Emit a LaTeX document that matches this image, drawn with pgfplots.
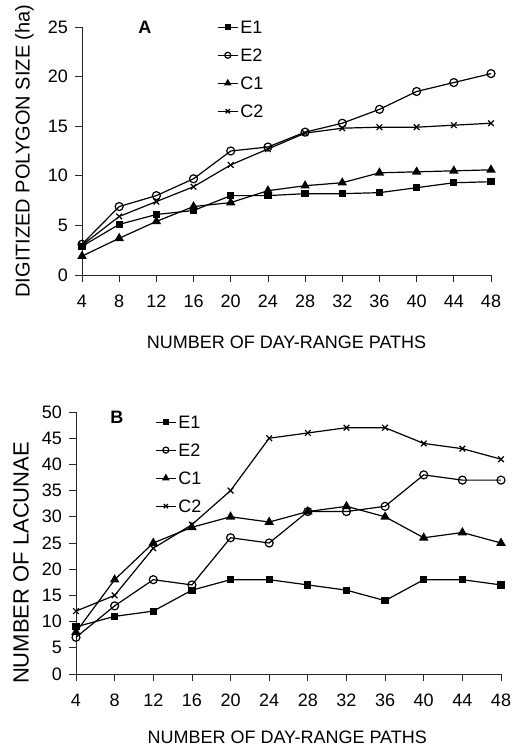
\documentclass[border=0pt]{standalone}
\usepackage{fontspec}
\setmainfont{Liberation Sans}
\usepackage{pgfplots}
\pgfplotsset{compat=1.18}

\newcommand\lab{\fontsize{18bp}{20bp}\selectfont}

\pgfplotsset{
  panel/.style={
    scale only axis, anchor=south west, clip=false,
    axis x line=bottom, axis y line=left,
    axis line style={black!85, line width=0.8bp, -},
    xmin=4, xmax=48, xtick={4,8,...,48},
    tick align=outside, major tick length=7bp,
    tick style={black!85, line width=0.8bp},
    ticklabel style={font=\lab},
    /pgf/number format/assume math mode=true,
    yticklabel style={anchor=east, inner sep=0pt, xshift=-7bp},
    xticklabel style={anchor=north, inner sep=0pt, yshift=-13bp},
    xlabel style={font=\lab, anchor=center},
    ylabel style={anchor=center},
    legend cell align=left,
    legend style={draw=none, fill=white, inner sep=0pt, row sep=15bp,
      column sep=2bp,
      nodes={font=\lab, inner sep=0pt, text height=13bp, text depth=0bp}},
    legend image code/.code={
      \draw[mark repeat=2, mark phase=2] plot coordinates {(0bp,0bp) (10bp,0bp) (20bp,0bp)};},
    legend image post style={every mark/.append style={scale=0.75}},
    every axis plot/.append style={black, line width=1.2bp},
  },
  sE1/.style={mark=square*, mark size=3bp},
  sE2/.style={mark=o, mark size=4bp, mark options={fill=white}},
  sC1/.style={mark=triangle*, mark size=4.3bp},
  sC2/.style={mark=x, mark size=4bp},
}

\begin{document}
\begin{tikzpicture}
\path (0,0) rectangle (519bp,751bp);

% panel A
\begin{axis}[panel,
  at={(82bp,476bp)}, width=409bp, height=248bp,
  ymin=0, ymax=25, ytick={0,5,...,25},
  xlabel={NUMBER OF DAY-RANGE PATHS},
  xlabel style={at={(axis description cs:0.5,-0.270)}},
  ylabel={DIGITIZED POLYGON SIZE (ha)},
  ylabel style={at={(axis description cs:-0.1406,0.5)}, font=\fontsize{20bp}{22bp}\selectfont},
  legend style={at={(axis description cs:0.330,1.026)}, anchor=north west},
]
\addplot[sE1] coordinates {(4,2.9)(8,5.1)(12,6.1)(16,6.5)(20,8.0)(24,8.0)(28,8.2)(32,8.2)(36,8.3)(40,8.8)(44,9.3)(48,9.4)};
\addlegendentry{E1}
\addplot[sE2] coordinates {(4,3.1)(8,6.9)(12,8.0)(16,9.7)(20,12.5)(24,12.9)(28,14.4)(32,15.3)(36,16.7)(40,18.5)(44,19.4)(48,20.3)};
\addlegendentry{E2}
\addplot[sC1] coordinates {(4,1.9)(8,3.7)(12,5.4)(16,6.9)(20,7.3)(24,8.5)(28,9.0)(32,9.3)(36,10.3)(40,10.4)(44,10.5)(48,10.6)};
\addlegendentry{C1}
\addplot[sC2] coordinates {(4,3.0)(8,5.9)(12,7.4)(16,8.9)(20,11.1)(24,12.7)(28,14.3)(32,14.8)(36,14.9)(40,14.9)(44,15.1)(48,15.3)};
\addlegendentry{C2}
\node[font=\lab\bfseries] at (axis description cs:0.154,1.0) {A};
\end{axis}

% panel B
\begin{axis}[panel,
  at={(76bp,77bp)}, width=425bp, height=262bp,
  ymin=0, ymax=50, ytick={0,5,...,50},
  xlabel={NUMBER OF DAY-RANGE PATHS},
  xlabel style={at={(axis description cs:0.497,-0.240)}},
  ylabel={NUMBER OF LACUNAE},
  ylabel style={at={(axis description cs:-0.129,0.424)}, font=\fontsize{22bp}{24bp}\selectfont},
  legend style={at={(axis description cs:0.186,0.987)}, anchor=north west},
]
\addplot[sE1] coordinates {(4,9)(8,11)(12,12)(16,16)(20,18)(24,18)(28,17)(32,16)(36,14)(40,18)(44,18)(48,17)};
\addlegendentry{E1}
\addplot[sE2] coordinates {(4,7)(8,13)(12,18)(16,17)(20,26)(24,25)(28,31)(32,31)(36,32)(40,38)(44,37)(48,37)};
\addlegendentry{E2}
\addplot[sC1] coordinates {(4,8)(8,18)(12,25)(16,28)(20,30)(24,29)(28,31)(32,32)(36,30)(40,26)(44,27)(48,25)};
\addlegendentry{C1}
\addplot[sC2] coordinates {(4,12)(8,15)(12,24)(16,28.5)(20,35)(24,45)(28,46)(32,47)(36,47)(40,44)(44,43)(48,41)};
\addlegendentry{C2}
\node[font=\lab\bfseries] at (axis description cs:0.096,0.981) {B};
\end{axis}
\end{tikzpicture}
\end{document}
